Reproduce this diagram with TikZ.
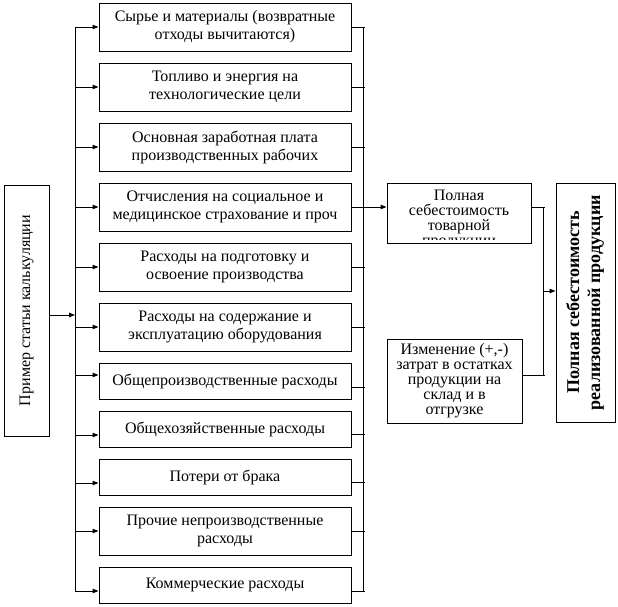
\documentclass[tikz,border=0pt]{standalone}
\usepackage{fontspec}
\usepackage{graphicx}
\setmainfont{Liberation Serif}
\usetikzlibrary{arrows.meta,calc}
\begin{document}
\begin{tikzpicture}[x=1pt,y=-1pt,
  ln/.style={line width=1pt},
  box/.style={draw, line width=1pt, minimum width=252pt, align=center, inner sep=0pt,
              font=\fontsize{16}{18}\selectfont},
  side/.style={draw, line width=1pt, align=center, inner sep=0pt,
              font=\fontsize{16}{15}\selectfont},
  arr/.style={line width=1pt, -{Triangle[length=6pt,width=4.5pt]}}]
\useasboundingbox (0,0) rectangle (618,606);

% left box
\node[draw, ln, minimum width=45pt, minimum height=251pt, inner sep=0pt,
      font=\fontsize{16}{18}\selectfont] (P) at (26.5,310.5)
      {\rotatebox{90}{Пример статьи калькуляции}};

% cost items
\node[box, minimum height=48pt] (r1) at (225,27) {Сырье и материалы (возвратные\\отходы вычитаются)};
\node[box, minimum height=48pt] (r2) at (225,87) {Топливо и энергия на\\технологические цели};
\node[box, minimum height=48pt] (r3) at (225,147) {Основная заработная плата\\производственных рабочих};
\node[box, minimum height=48pt] (r4) at (225,207) {Отчисления на социальное и\\медицинское страхование и проч};
\node[box, minimum height=48pt] (r5) at (225,267) {Расходы на подготовку и\\освоение производства};
\node[box, minimum height=48pt] (r6) at (225,327) {Расходы на содержание и\\эксплуатацию оборудования};
\node[box, minimum height=36pt] (r7) at (225,381) {Общепроизводственные расходы};
\node[box, minimum height=36pt] (r8) at (225,429) {Общехозяйственные расходы};
\node[box, minimum height=36pt] (r9) at (225,477) {Потери от брака};
\node[box, minimum height=48pt] (r10) at (225,531) {Прочие непроизводственные\\расходы};
\node[box, minimum height=36pt] (r11) at (225,585) {Коммерческие расходы};

% right side boxes
\begin{scope}
  \clip (387,183) rectangle (531,239);
  \node[side, draw=none] (At) at (459,219) {Полная\\себестоимость\\товарной\\продукции};
\end{scope}
\node[draw, ln, minimum width=144pt, minimum height=60pt] (A) at (459,213) {};
\node[side, minimum width=135pt, minimum height=84pt] (B) at (454.5,381)
  {Изменение (+,-)\\затрат в остатках\\продукции на\\склад и в\\отгрузке};
\node[draw, ln, minimum width=59pt, minimum height=239pt, inner sep=0pt,
      font=\bfseries\fontsize{18}{21}\selectfont] (F) at (585.5,302.5)
  {\rotatebox{90}{\begin{tabular}{@{}c@{}}Полная себестоимость\\реализованной продукции\end{tabular}}};

% buses
\coordinate (lbT) at (75,27);
\coordinate (lbB) at (75,591);
\coordinate (rbT) at (363,27);
\coordinate (rbB) at (363,591);
\coordinate (jn) at (543,291);
\draw[ln] (lbT) -- (lbB);
\draw[ln] (rbT) -- (rbB);

% pointer from left box
\draw[arr] ($(P.east)+(0,4.5)$) -- ($(lbT |- P.east)+(0,4.5)$);

% arrows into items
\draw[arr] (lbT |- r1.west) -- (r1.west);
\draw[arr] (lbT |- r2.west) -- (r2.west);
\draw[arr] (lbT |- r3.west) -- (r3.west);
\draw[arr] (lbT |- r4.west) -- (r4.west);
\draw[arr] (lbT |- r5.west) -- (r5.west);
\draw[arr] (lbT |- r6.west) -- (r6.west);
\draw[arr] ($(lbT |- r7.west)+(0,-6)$) -- ($(r7.west)+(0,-6)$);
\draw[arr] ($(lbT |- r8.west)+(0,6)$) -- ($(r8.west)+(0,6)$);
\draw[arr] ($(lbT |- r9.west)+(0,6)$) -- ($(r9.west)+(0,6)$);
\draw[arr] (lbT |- r10.west) -- (r10.west);
\draw[arr] ($(lbT |- r11.west)+(0,6)$) -- ($(r11.west)+(0,6)$);

% stubs out of items
\draw[ln] (r1.east) -- ($(rbT |- r1.east)+(2,0)$);
\draw[ln] (r2.east) -- ($(rbT |- r2.east)+(2,0)$);
\draw[ln] (r3.east) -- ($(rbT |- r3.east)+(2,0)$);
\draw[ln] (r5.east) -- ($(rbT |- r5.east)+(2,0)$);
\draw[ln] (r6.east) -- ($(rbT |- r6.east)+(2,0)$);
\draw[ln] ($(r7.east)+(0,6)$) -- ($(rbT |- r7.east)+(2,6)$);
\draw[ln] ($(r8.east)+(0,5)$) -- ($(rbT |- r8.east)+(2,5)$);
\draw[ln] ($(r9.east)+(0,5)$) -- ($(rbT |- r9.east)+(2,5)$);
\draw[ln] (r10.east) -- ($(rbT |- r10.east)+(2,0)$);
\draw[ln] ($(r11.east)+(0,6)$) -- ($(rbT |- r11.east)+(2,6)$);

% to full cost of commodity output
\draw[arr] (r4.east) -- (A.west |- r4.east);

% join to final box
\draw[ln] (A.east |- r4.east) -- ($(jn |- r4.east)+(2,0)$);
\draw[ln] (jn |- r4.east) -- (jn |- {$(B.east)+(0,-6)$});
\draw[ln] ($(B.east)+(0,-6)$) -- ($(jn |- B.east)+(2,-6)$);
\draw[arr] (jn) -- (F.west |- jn);
\end{tikzpicture}
\end{document}
